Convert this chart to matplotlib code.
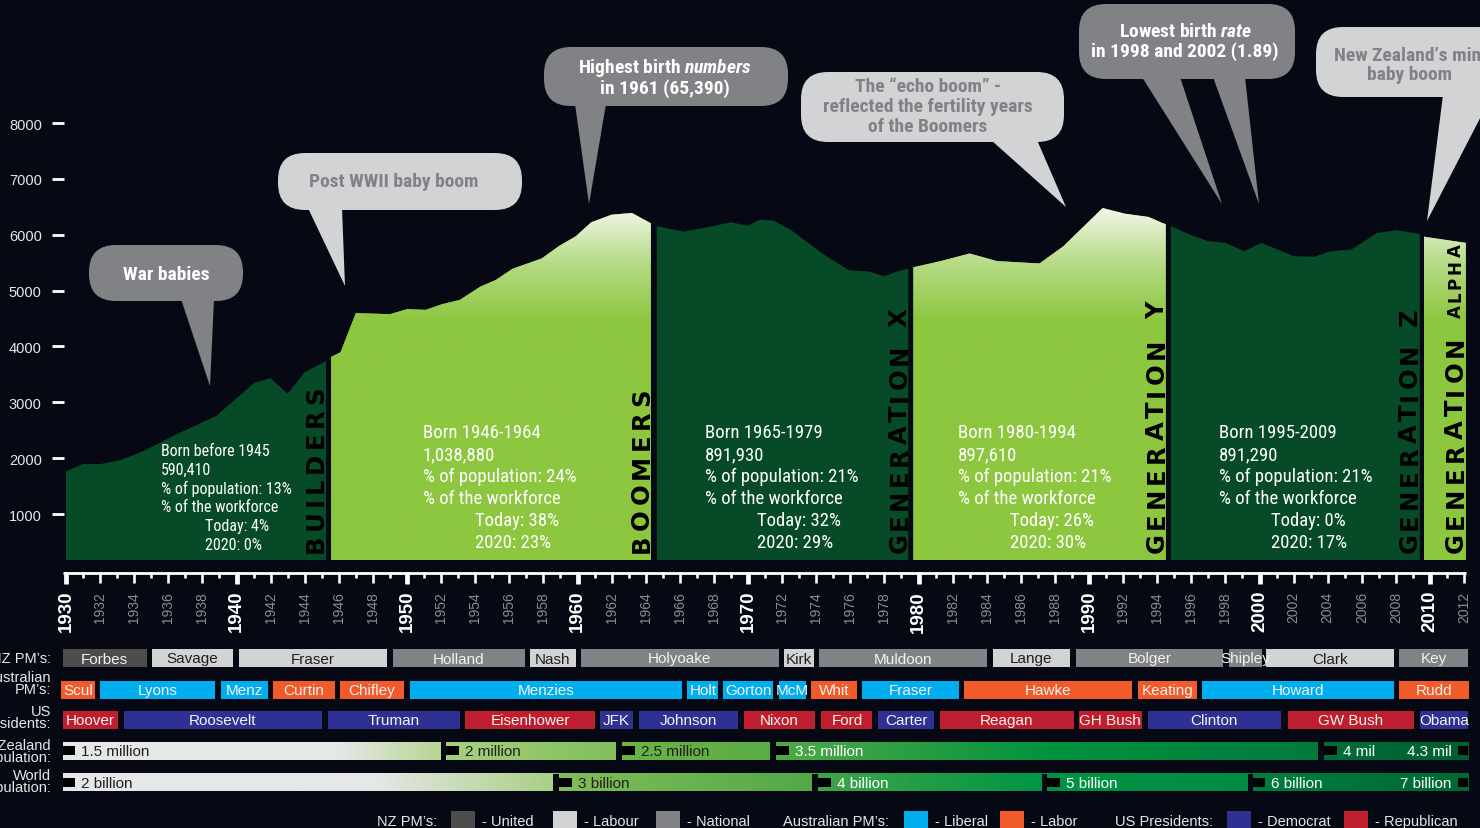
import numpy as np
import matplotlib
matplotlib.use("Agg")
import matplotlib.pyplot as plt
from matplotlib import font_manager as fm
from matplotlib.colors import LinearSegmentedColormap, Normalize, to_rgb
from matplotlib.patches import FancyBboxPatch, Polygon, Rectangle

W, H, DPI = 1480, 829, 100

_names = {f.name for f in fm.fontManager.ttflist}


def pick(*cands):
    for c in cands:
        if c in _names:
            return c
    return "DejaVu Sans"


COND = pick("Liberation Sans Narrow", "DejaVu Sans Condensed", "Roboto Condensed",
            "Open Sans Condensed", "Roboto")
SANS = pick("Liberation Sans", "Arimo", "DejaVu Sans")
WIDE = pick("DejaVu Sans")

plt.rcParams["mathtext.fontset"] = "custom"
plt.rcParams["mathtext.it"] = f"{COND}:italic:bold"
plt.rcParams["mathtext.rm"] = f"{COND}:bold"

BG = "#060913"
DARK = "#064a27"
LIGHT = "#8dc63f"
PALE = "#f1f7e8"

# ---------------------------------------------------------------- data
Y_TICKS = [1000, 2000, 3000, 4000, 5000, 6000, 7000, 8000]

BIRTH_YEARS = [1930.0, 1931.0, 1932.0, 1933.2, 1934.5, 1936.5, 1938.8, 1941.05, 1942.0,
               1943.0, 1944.0, 1945.2, 1945.5, 1946.1, 1947.0, 1949.0, 1950.0, 1951.1,
               1952.05, 1953.1, 1954.3, 1955.2, 1956.2, 1957.9, 1958.9, 1959.9, 1960.8,
               1962.0, 1963.2, 1964.2, 1964.7, 1966.2, 1967.6, 1969.0, 1970.0, 1970.7,
               1971.5, 1972.5, 1974.4, 1975.9, 1977.15, 1978.0, 1978.7, 1979.3,
               1979.7, 1981.3, 1983.0, 1984.6, 1987.1, 1988.5, 1990.8, 1992.1, 1993.5,
               1994.3, 1994.75, 1995.9, 1997.0, 1998.0, 1999.1, 2000.1, 2002.0, 2003.2,
               2004.2, 2005.4, 2006.9, 2008.0, 2009.3, 2009.7, 2012.1]
BIRTHS = [1763, 1894, 1894, 1965, 2120, 2430, 2755, 3349, 3432,
          3153, 3539, 3729, 3806, 3895, 4596, 4578, 4667, 4655,
          4756, 4833, 5071, 5189, 5392, 5575, 5795, 5973, 6222,
          6359, 6389, 6222, 6151, 6055, 6133, 6223, 6162, 6270,
          6252, 6090, 5655, 5368, 5339, 5256, 5339, 5387,
          5417, 5528, 5664, 5528, 5486, 5795, 6478, 6377, 6318,
          6211, 6163, 6003, 5884, 5855, 5706, 5855, 5617, 5605,
          5706, 5736, 6033, 6080, 6021, 5962, 5855]

GEN_NAMES = ["BUILDERS", "BOOMERS", "GENERATION X", "GENERATION Y", "GENERATION Z", "GENERATION"]
GEN_START = [1930.0, 1945.55, 1964.65, 1979.7, 1994.8, 2009.65]
GEN_END = [1945.25, 1964.3, 1979.4, 1994.5, 2009.4, 2012.1]
GEN_BORN = ["Born before 1945", "Born 1946-1964", "Born 1965-1979", "Born 1980-1994",
            "Born 1995-2009"]
GEN_COUNT = ["590,410", "1,038,880", "891,930", "897,610", "891,290"]
GEN_POP_SHARE = ["13%", "24%", "21%", "21%", "21%"]
GEN_WORK_TODAY = ["4%", "38%", "32%", "26%", "0%"]
GEN_WORK_2020 = ["0%", "23%", "29%", "30%", "17%"]

NZ_PM = ["Forbes", "Savage", "Fraser", "Holland", "Nash", "Holyoake", "Kirk", "Muldoon",
         "Lange", "Bolger", "Shipley", "Clark", "Key"]
NZ_PM_START = [1929.8, 1935.05, 1940.15, 1949.15, 1957.2, 1960.2, 1972.1, 1974.15,
               1984.35, 1989.25, 1998.2, 2000.4, 2008.2]
NZ_PM_END = [1934.75, 1939.8, 1948.8, 1956.9, 1959.9, 1971.8, 1973.85, 1984.0,
             1988.9, 1997.85, 2000.15, 2007.9, 2012.2]
NZ_PM_PARTY = ["United", "Labour", "Labour", "National", "Labour", "National", "Labour",
               "National", "Labour", "National", "National", "Labour", "National"]

AU_PM = ["Scul", "Lyons", "Menz", "Curtin", "Chifley", "Menzies", "Holt", "Gorton", "McM",
         "Whit", "Fraser", "Hawke", "Keating", "Howard", "Rudd"]
AU_PM_START = [1929.7, 1932.0, 1939.1, 1942.15, 1946.05, 1950.2, 1966.45, 1968.55, 1971.8,
               1973.7, 1976.7, 1982.65, 1992.9, 1996.65, 2008.2]
AU_PM_END = [1931.7, 1938.75, 1941.85, 1945.75, 1949.85, 1966.1, 1968.25, 1971.45, 1973.4,
             1976.4, 1982.35, 1992.55, 1996.35, 2007.9, 2012.3]
AU_PM_PARTY = ["Labor", "Liberal", "Liberal", "Labor", "Labor", "Liberal", "Liberal",
               "Liberal", "Liberal", "Labor", "Liberal", "Labor", "Labor", "Liberal", "Labor"]

US_PRES = ["Hoover", "Roosevelt", "Truman", "Eisenhower", "JFK", "Johnson", "Nixon", "Ford",
           "Carter", "Reagan", "GH Bush", "Clinton", "GW Bush", "Obama"]
US_PRES_START = [1929.85, 1933.4, 1945.35, 1953.4, 1961.3, 1963.6, 1969.75, 1974.3,
                 1977.65, 1981.25, 1989.4, 1993.45, 2001.65, 2009.4]
US_PRES_END = [1933.05, 1945.0, 1953.1, 1961.05, 1963.25, 1969.4, 1973.95, 1977.3,
               1980.9, 1989.1, 1993.1, 2001.25, 2009.05, 2012.25]
US_PRES_PARTY = ["Republican", "Democrat", "Democrat", "Republican", "Democrat", "Democrat",
                 "Republican", "Republican", "Democrat", "Republican", "Republican",
                 "Democrat", "Republican", "Democrat"]

NZ_POP_LABELS = ["1.5 million", "2 million", "2.5 million", "3.5 million", "4 mil"]
NZ_POP_START = [1929.8, 1952.3, 1962.6, 1971.65, 2003.8]
NZ_POP_END = [1952.0, 1962.25, 1971.3, 2003.45, 2012.25]
NZ_POP_LAST = "4.3 mil"

WORLD_POP_LABELS = ["2 billion", "3 billion", "4 billion", "5 billion", "6 billion"]
WORLD_POP_START = [1929.8, 1958.9, 1974.1, 1987.55, 1999.6]
WORLD_POP_END = [1958.55, 1973.75, 1987.25, 1999.3, 2012.25]
WORLD_POP_LAST = "7 billion"

# ---------------------------------------------------------------- style
PARTY_COLORS = {"United": "#4d4d4d", "Labour": "#d1d3d4", "National": "#808285",
                "Liberal": "#00aeef", "Labor": "#f15a29",
                "Democrat": "#2e3192", "Republican": "#be1e2d"}
PARTY_TEXT = {"Labour": "#231f20"}

NZ_POP_STOPS = [(1929.8, "#e6e7e8"), (1946.0, "#e6e7e8"), (1952.0, "#b6d591"),
                (1952.3, "#a8cf80"), (1962.25, "#80bf5b"), (1962.6, "#6cb446"),
                (1971.3, "#5aac45"), (1971.65, "#50a947"), (1988.0, "#00923f"),
                (2003.45, "#007a3c"), (2003.8, "#006e39"), (2012.25, "#005f30")]
WORLD_POP_STOPS = [(1929.8, "#e6e7e8"), (1948.0, "#e6e7e8"), (1958.55, "#a9cf84"),
                   (1958.9, "#82bd5a"), (1973.75, "#52a946"), (1974.1, "#40a448"),
                   (1987.25, "#009546"), (1987.55, "#009444"), (1999.3, "#008b41"),
                   (1999.6, "#007e3e"), (2012.25, "#006834")]
NZ_POP_DARK_TEXT = [True, True, True, False, False]
WORLD_POP_DARK_TEXT = [True, True, False, False, False]

# left edge of each generation's text block, in pixels
STATS_X_PX = [161, 423, 705, 958, 1219]

YEAR0, PX0, PX_PER_YEAR = 1930, 66.0, 17.05
ZERO_PX, PX_PER_1000 = 570.9, 55.86


def px2yr(px):
    return YEAR0 + (px - PX0) / PX_PER_YEAR


def px_val(py):
    return (ZERO_PX - py) / PX_PER_1000 * 1000


def px_rect(x0, y0, x1, y1):
    return [x0 / W, 1 - y1 / H, (x1 - x0) / W, (y1 - y0) / H]


fig = plt.figure(figsize=(W / DPI, H / DPI), dpi=DPI, facecolor=BG)
renderer = fig.canvas.get_renderer()

# ---------------------------------------------------------------- birth area chart
ax = fig.add_axes(px_rect(64, 100, 1470, 561))
ax.set_facecolor("none")
ybot, ytop = px_val(561), px_val(100)
years = np.array(BIRTH_YEARS)
births = np.array(BIRTHS, dtype=float)

grad_cmap = LinearSegmentedColormap.from_list("boom", [LIGHT, "#b4da82", PALE])
for k, (g0, g1) in enumerate(zip(GEN_START, GEN_END)):
    inside = (years > g0) & (years < g1)
    xs = np.concatenate([[g0], years[inside], [g1]])
    ys = np.interp(xs, years, births)
    verts = [(g0, ybot)] + list(zip(xs, ys)) + [(g1, ybot)]
    dark = k % 2 == 0
    poly = Polygon(verts, closed=True, facecolor=DARK if dark else LIGHT,
                   edgecolor="none", zorder=1)
    ax.add_patch(poly)
    if not dark:
        zz = np.linspace(ybot, 7000, 300).reshape(-1, 1)
        im = ax.imshow(zz, extent=(g0, g1, ybot, 7000), origin="lower", aspect="auto",
                       cmap=grad_cmap, norm=Normalize(4450, 6450), zorder=2,
                       interpolation="bilinear")
        im.set_clip_path(poly)

ax.set_xlim(px2yr(64), px2yr(1470))
ax.set_ylim(ybot, ytop)
for s in ax.spines.values():
    s.set_visible(False)
ax.set_xticks([])
ax.set_yticks(Y_TICKS)
ax.set_yticklabels([str(v) for v in Y_TICKS])
ax.tick_params(axis="y", length=9, width=2, color="white", pad=7, labelsize=10.5,
               labelcolor="#e6e6e6", labelfontfamily=SANS)

# ---------------------------------------------------------------- timeline overlay (years x, pixel y)
tl = fig.add_axes([0, 0, 1, 1])
tl.set_facecolor("none")
tl.set_axis_off()

# generation stats text
for k in range(5):
    x_left = px2yr(STATS_X_PX[k])
    x_ind = px2yr(STATS_X_PX[k] + (44 if k == 0 else 52))
    if k == 0:
        fs, ys_ = 11.5, [451, 470, 489, 507, 527, 546]
    else:
        fs, ys_ = 13.5, [433, 455, 477, 499, 521, 543]
    lines = [GEN_BORN[k], GEN_COUNT[k], f"% of population: {GEN_POP_SHARE[k]}",
             "% of the workforce"]
    for line, yy in zip(lines, ys_[:4]):
        tl.text(x_left, yy, line, color="white", fontsize=fs, family=COND,
                ha="left", va="center")
    tl.text(x_ind, ys_[4], f"Today: {GEN_WORK_TODAY[k]}", color="white", fontsize=fs,
            family=COND, ha="left", va="center")
    tl.text(x_ind, ys_[5], f"2020: {GEN_WORK_2020[k]}", color="white", fontsize=fs,
            family=COND, ha="left", va="center")


def spaced_vertical(ax_, x, y_bottom, y_top, word, size):
    fp = fm.FontProperties(family=WIDE, weight="bold", size=size)
    widths = []
    for c in word:
        if c == " ":
            widths.append(size * DPI / 72 * 0.45)
        else:
            widths.append(renderer.get_text_width_height_descent(c, fp, ismath=False)[0])
    track = ((y_bottom - y_top) - sum(widths)) / (len(word) - 1)
    pos = y_bottom
    for c, w in zip(word, widths):
        if c != " ":
            ax_.text(x, pos - w / 2, c, rotation=90, ha="center", va="center",
                     fontproperties=fp, color="black", zorder=5)
        pos -= w + track


GEN_LABEL_PX = [(316, 553, 387), (642, 553, 388), (900, 553, 308), (1157, 553, 302),
                (1410, 553, 308), (1456, 553, 337)]
for name, (xp, yb, yt) in zip(GEN_NAMES, GEN_LABEL_PX):
    spaced_vertical(tl, px2yr(xp), yb, yt, name, 17.5)
spaced_vertical(tl, px2yr(1456), 318, 244, "ALPHA", 12)

# ruler
tl.hlines(574, px2yr(63), px2yr(1466), color="white", lw=2, zorder=3)
for yr in range(1930, 2013):
    if yr % 10 == 0:
        tl.vlines(yr, 573, 585, color="white", lw=3.4, zorder=3)
        tl.text(yr, 591, str(yr), rotation=90, ha="center", va="top", color="white",
                fontsize=13.5, fontweight="bold", family=SANS)
    elif yr % 2 == 0:
        tl.vlines(yr, 573, 584, color="white", lw=1.9, zorder=3)
        tl.text(yr, 592, str(yr), rotation=90, ha="center", va="top", color="#8c8c8c",
                fontsize=10, family=SANS)
    else:
        tl.vlines(yr, 573, 579, color="white", lw=1.9, zorder=3)

# leader rows
ROW_H = 18
leader_rows = [(659, NZ_PM, NZ_PM_START, NZ_PM_END, NZ_PM_PARTY),
               (690.5, AU_PM, AU_PM_START, AU_PM_END, AU_PM_PARTY),
               (720.5, US_PRES, US_PRES_START, US_PRES_END, US_PRES_PARTY)]
for yc, names, starts, ends, parties in leader_rows:
    for nm, s0, s1, party in zip(names, starts, ends, parties):
        tl.add_patch(Rectangle((s0, yc - ROW_H / 2), s1 - s0, ROW_H,
                               facecolor=PARTY_COLORS[party], edgecolor="none", zorder=2))
        tl.text((s0 + s1) / 2, yc + 0.5, nm, ha="center", va="center", fontsize=11,
                family=SANS, color=PARTY_TEXT.get(party, "#f2f2f2"), zorder=3)


def stops_image(stops, x0, x1, n=900):
    xs = np.linspace(x0, x1, n)
    sx = [s[0] for s in stops]
    cols = np.array([to_rgb(s[1]) for s in stops])
    img = np.stack([np.interp(xs, sx, cols[:, c]) for c in range(3)], axis=-1)
    return img[np.newaxis, :, :]


pop_rows = [(751.5, NZ_POP_LABELS, NZ_POP_START, NZ_POP_END, NZ_POP_LAST, NZ_POP_STOPS,
             NZ_POP_DARK_TEXT),
            (783.5, WORLD_POP_LABELS, WORLD_POP_START, WORLD_POP_END, WORLD_POP_LAST,
             WORLD_POP_STOPS, WORLD_POP_DARK_TEXT)]
notch_w = 0.75
for yc, labels, starts, ends, last, stops, dark_text in pop_rows:
    x0, x1 = starts[0], ends[-1]
    tl.imshow(stops_image(stops, x0, x1), extent=(x0, x1, yc + ROW_H / 2, yc - ROW_H / 2),
              aspect="auto", interpolation="bilinear", zorder=1)
    for k in range(len(starts) - 1):
        tl.add_patch(Rectangle((ends[k], yc - ROW_H / 2), starts[k + 1] - ends[k], ROW_H,
                               facecolor=BG, edgecolor="none", zorder=2))
    for k, (s0, lab) in enumerate(zip(starts, labels)):
        tl.add_patch(Rectangle((s0, yc - 4.5), notch_w, 9, facecolor="black",
                               edgecolor="none", zorder=3))
        tl.text(s0 + 1.1, yc + 0.5, lab, ha="left", va="center", fontsize=11, family=SANS,
                color="#231f20" if dark_text[k] else "white", zorder=3)
    tl.add_patch(Rectangle((x1 - 0.6, yc - 4.5), 0.6, 9, facecolor="black",
                           edgecolor="none", zorder=3))
    tl.text(x1 - 1.0, yc + 0.5, last, ha="right", va="center", fontsize=11, family=SANS,
            color="white", zorder=3)

tl.set_xlim(px2yr(0), px2yr(W))
tl.set_ylim(H, 0)

# ---------------------------------------------------------------- pixel overlay
px = fig.add_axes([0, 0, 1, 1])
px.set_facecolor("none")
px.set_axis_off()
px.set_xlim(0, W)
px.set_ylim(H, 0)

ROW_LABELS = [("NZ PM’s:", 659), ("Australian\nPM’s:", 684), ("US\nPresidents:", 718),
              ("New Zealand\npopulation:", 752), ("World\npopulation:", 782)]
for txt, yy in ROW_LABELS:
    px.text(51, yy, txt, ha="right", va="center", fontsize=10.5, family=SANS,
            color="#e6e6e6", linespacing=0.85, multialignment="right")

GREY_DARK, GREY_LIGHT = "#808285", "#d1d3d4"
BUBBLES = [
    ((89, 246, 243, 302), [[(181, 300), (214, 300), (210, 387)]], GREY_DARK, "white",
     ["War babies"], [275], 166),
    ((278, 154, 522, 211), [[(308, 209), (342, 209), (345, 287)]], GREY_LIGHT, GREY_DARK,
     ["Post WWII baby boom"], [182], 394),
    ((544, 48, 788, 107), [[(575, 105), (606, 105), (589, 205)]], GREY_DARK, "white",
     [r"Highest birth $\mathit{numbers}$", "in 1961 (65,390)"], [68, 89], 665),
    ((801, 73, 1064, 143), [[(991, 141), (1037, 141), (1066, 208)]], GREY_LIGHT, GREY_DARK,
     ["The “echo boom” -", "reflected the fertility years", "of the Boomers"],
     [87, 107, 127], 928),
    ((1079, 5, 1295, 80), [[(1142, 78), (1180, 78), (1222, 205)],
                           [(1213, 78), (1245, 78), (1259, 205)]], GREY_DARK, "white",
     [r"Lowest birth $\mathit{rate}$", "in 1998 and 2002 (1.89)"], [32, 52], 1185),
    ((1316, 28, 1505, 98), [[(1443, 96), (1492, 96), (1427, 222)]], GREY_LIGHT, GREY_DARK,
     ["New Zealand’s mini", "baby boom"], [56, 75], 1410),
]
for (x0, y0, x1, y1), tails, face, tcol, lines, ly, xc in BUBBLES:
    r = min(27, (y1 - y0) / 2)
    px.add_patch(FancyBboxPatch((x0, y0), x1 - x0, y1 - y0,
                                boxstyle=f"round,pad=0,rounding_size={r}",
                                facecolor=face, edgecolor="none", zorder=4))
    for tail in tails:
        px.add_patch(Polygon(tail, closed=True, facecolor=face, edgecolor="none", zorder=4))
    for line, yy in zip(lines, ly):
        px.text(xc, yy, line, ha="center", va="center", fontsize=14, family=COND,
                fontweight="bold", color=tcol, zorder=5)

LEGEND_GROUPS = [("NZ PM’s:", 437, [("United", 451), ("Labour", 553), ("National", 656)]),
                 ("Australian PM’s:", 889, [("Liberal", 904), ("Labor", 1000)]),
                 ("US Presidents:", 1213, [("Democrat", 1227), ("Republican", 1344)])]
for title, xr, items in LEGEND_GROUPS:
    px.text(xr, 822, title, ha="right", va="center", fontsize=10.5, family=SANS,
            color="#e6e6e6")
    for party, xs in items:
        px.add_patch(Rectangle((xs, 812), 24, 20, facecolor=PARTY_COLORS[party],
                               edgecolor="none"))
        px.text(xs + 31, 822, f"- {party}", ha="left", va="center", fontsize=10.5,
                family=SANS, color="#e6e6e6")

fig.savefig("out.png", dpi=DPI, facecolor=BG)
